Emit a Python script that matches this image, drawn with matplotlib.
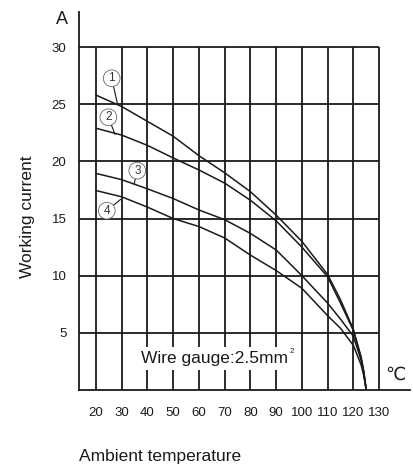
import matplotlib
matplotlib.use("Agg")
import matplotlib.pyplot as plt

# ---- data ----
temps = [20, 30, 40, 50, 60, 70, 80, 90, 100, 110, 115, 120, 123, 124, 125]
curve1 = [25.8, 24.8, 23.5, 22.2, 20.5, 19.0, 17.35, 15.3, 13.0, 10.1, 7.9, 5.3, 2.9, 1.7, 0.0]
curve2 = [22.9, 22.3, 21.4, 20.3, 19.25, 18.1, 16.6, 14.8, 12.5, 9.9, 7.6, 5.2, 2.8, 1.6, 0.0]
curve3 = [18.95, 18.4, 17.6, 16.75, 15.75, 14.9, 13.7, 12.25, 10.0, 7.6, 6.2, 4.7, 2.6, 1.5, 0.0]
curve4 = [17.45, 16.9, 16.0, 15.0, 14.3, 13.3, 11.8, 10.45, 8.9, 6.5, 5.4, 3.9, 2.2, 1.3, 0.0]
curves = [curve1, curve2, curve3, curve4]
curve_labels = ["1", "2", "3", "4"]
# (label centre), (leader end on curve)
label_pos = [(26.1, 27.27), (24.8, 23.86), (36.05, 19.19), (24.2, 15.69)]
leader_end = [(28.3, 25.08), (27.4, 22.37), (34.8, 18.0), (29.6, 16.68)]

x_ticks = [20, 30, 40, 50, 60, 70, 80, 90, 100, 110, 120, 130]
y_ticks = [5, 10, 15, 20, 25, 30]

FONT = ["Liberation Sans", "DejaVu Sans"]
NARROW = ["Liberation Sans Narrow", "Liberation Sans", "DejaVu Sans"]
INK = "#1a1a1a"

fig = plt.figure(figsize=(4.14, 4.67), dpi=100)
ax = fig.add_axes([79 / 414, 77 / 467, (410 - 79) / 414, (390 - 12) / 467])
ax.set_xlim(13.4, 142.0)
ax.set_ylim(0, 33.07)

# grid
ax.vlines(x_ticks, 0, 30, colors=INK, lw=1.3, zorder=1)
ax.hlines(y_ticks, 13.4, 130, colors=INK, lw=1.3, zorder=1)

for c in curves:
    ax.plot(temps, c, color=INK, lw=1.1, zorder=3)

for lab, (tx, ty), (ex, ey) in zip(curve_labels, label_pos, leader_end):
    ax.annotate(lab, xy=(ex, ey), xytext=(tx, ty), ha="center", va="center",
                fontsize=8.5, family=FONT, color="#333333", zorder=4,
                bbox=dict(boxstyle="circle,pad=0.2", fc="white", ec="#666666", lw=0.6),
                arrowprops=dict(arrowstyle="-", lw=0.8, color=INK, shrinkA=0, shrinkB=0))

ax.text(66.2, 2.75, "Wire gauge:2.5mm", ha="center", va="center",
        fontsize=12.5, family=FONT, color=INK, zorder=5,
        bbox=dict(boxstyle="square,pad=0.25", fc="white", ec="none"))
ax.text(96.0, 3.4, "2", ha="center", va="center", fontsize=5.5, family=FONT, color=INK, zorder=6)

# spines
for s in ["top", "right"]:
    ax.spines[s].set_visible(False)
for s in ["left", "bottom"]:
    ax.spines[s].set_color(INK)
    ax.spines[s].set_linewidth(1.3)

ax.set_xticks(x_ticks)
ax.set_xticklabels([str(v) for v in x_ticks], family=NARROW, fontsize=9.5, color=INK)
ax.set_yticks(y_ticks)
ax.set_yticklabels([str(v) for v in y_ticks], family=NARROW, fontsize=9.5, color=INK)
ax.tick_params(axis="x", length=0, pad=12)
ax.tick_params(axis="y", length=0, pad=9)

fig.text(62 / 414, 1 - 19 / 467, "A", ha="center", va="center", fontsize=13, family=FONT, color=INK)
fig.text(395 / 414, 1 - 375 / 467, "℃", ha="center", va="center", fontsize=13, family=FONT, color=INK)
fig.text(28 / 414, 1 - 217 / 467, "Working current", ha="center", va="center", rotation=90,
         fontsize=12.5, family=FONT, color=INK)
fig.text(79 / 414, 1 - 461 / 467, "Ambient temperature", ha="left", va="baseline",
         fontsize=12.5, family=FONT, color=INK)

fig.savefig("out.png", dpi=100)
